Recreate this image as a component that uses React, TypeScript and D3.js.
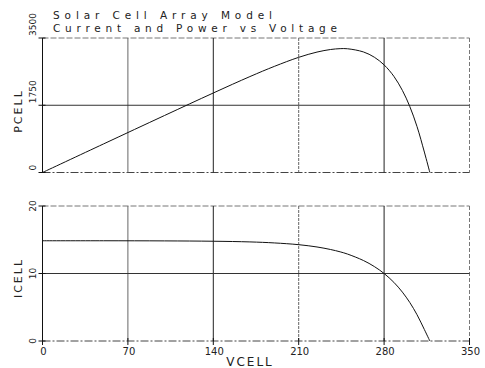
import * as d3 from 'd3';
import { useEffect, useRef } from 'react';

// values
const vcell = [0, 50, 100, 140, 170, 190, 210, 225, 236, 244, 250, 263, 272, 280, 288, 295, 301, 307, 313, 317.5];
const icell = [14.85, 14.85, 14.83, 14.78, 14.68, 14.53, 14.27, 13.93, 13.56, 13.21, 12.88, 11.93, 11.03, 10.0, 8.69, 7.24, 5.72, 3.89, 1.7, 0];
const pcell = [0, 743, 1483, 2069, 2496, 2761, 2997, 3134, 3200, 3223, 3220, 3138, 3000, 2800, 2503, 2136, 1722, 1194, 532, 0];

const xTicks = [0, 70, 140, 210, 280, 350];
const pTicks = [0, 1750, 3500];
const iTicks = [0, 10, 20];
const titleLines = ['Solar Cell Array Model', 'Current and Power vs Voltage'];

const App = () => {
    const svgRef = useRef<SVGSVGElement>(null);

    useEffect(() => {
        const width = 485;
        const height = 368;
        const font = "'DejaVu Sans', sans-serif";

        const svg = d3.select(svgRef.current);
        svg.selectAll('*').remove();
        svg.attr('width', width).attr('height', height);

        const x = d3.scaleLinear().domain([0, 350]).range([42.5, 469.5]);

        const panels = [
            { y: d3.scaleLinear().domain([0, 3500]).range([172.5, 38]), values: pcell, ticks: pTicks, label: 'PCELL', labelY: 111, tickShift: -2, anchor: 'start' },
            { y: d3.scaleLinear().domain([0, 20]).range([341, 206]), values: icell, ticks: iTicks, label: 'ICELL', labelY: 278, tickShift: 0, anchor: 'middle' },
        ];

        panels.forEach((p) => {
            const g = svg.append('g');
            const [y0, y1] = p.y.range();

            // frame: dashed top/right, dotted bottom
            g.append('line').attr('x1', x(0)).attr('x2', x(350)).attr('y1', y1).attr('y2', y1)
                .attr('stroke', '#777').attr('stroke-dasharray', '6,2');
            g.append('line').attr('x1', x(350)).attr('x2', x(350)).attr('y1', y1).attr('y2', y0)
                .attr('stroke', '#777').attr('stroke-dasharray', '4,2');
            g.append('line').attr('x1', x(0)).attr('x2', x(350)).attr('y1', y0).attr('y2', y0)
                .attr('stroke', '#444').attr('stroke-dasharray', '8,2,2,2');

            // grid
            xTicks.slice(1, -1).forEach((t, i) => {
                g.append('line').attr('x1', x(t)).attr('x2', x(t)).attr('y1', y1).attr('y2', y0)
                    .attr('stroke', i % 2 === 1 ? '#222' : '#666')
                    .attr('stroke-dasharray', i === 2 ? '3,1' : null);
            });
            g.append('line').attr('x1', x(0)).attr('x2', x(350)).attr('y1', p.y(p.ticks[1])).attr('y2', p.y(p.ticks[1]))
                .attr('stroke', '#333');

            // left axis
            g.append('line').attr('x1', x(0)).attr('x2', x(0)).attr('y1', y1).attr('y2', y0).attr('stroke', '#111');
            p.ticks.forEach((t) => {
                g.append('line').attr('x1', x(0) - 4).attr('x2', x(0) + 3).attr('y1', p.y(t)).attr('y2', p.y(t))
                    .attr('stroke', '#111');
                g.append('text')
                    .attr('transform', `translate(36, ${p.y(t) + p.tickShift}) rotate(-90)`)
                    .attr('text-anchor', p.anchor)
                    .style('font-family', font).style('font-size', '9px').attr('fill', '#222')
                    .text(t);
            });

            g.append('text')
                .attr('transform', `translate(22, ${p.labelY}) rotate(-90)`)
                .attr('text-anchor', 'middle')
                .style('font-family', font).style('font-size', '11px').style('letter-spacing', '2px')
                .attr('fill', '#222')
                .text(p.label);

            const line = d3.line<number>()
                .x((_, i) => x(vcell[i]))
                .y((d) => p.y(d))
                .curve(d3.curveCatmullRom.alpha(0.5));

            g.append('path').datum(p.values).attr('d', line)
                .attr('fill', 'none').attr('stroke', '#111').attr('stroke-width', 1);
        });

        // x ticks on the lower panel
        const bottom = 341;
        xTicks.forEach((t) => {
            svg.append('line').attr('x1', x(t)).attr('x2', x(t)).attr('y1', bottom - 3).attr('y2', bottom + 4)
                .attr('stroke', '#111');
            svg.append('text')
                .attr('x', x(t) + 1).attr('y', 355)
                .attr('text-anchor', 'middle')
                .style('font-family', font).style('font-size', '10px').attr('fill', '#222')
                .text(t);
        });

        svg.append('text')
            .attr('x', 250).attr('y', 366)
            .attr('text-anchor', 'middle')
            .style('font-family', font).style('font-size', '12px').style('letter-spacing', '2px')
            .attr('fill', '#222')
            .text('VCELL');

        // title
        const titleWidths = [219, 284];
        titleLines.forEach((s, i) => {
            svg.append('text')
                .attr('x', 53).attr('y', 19 + i * 12.5)
                .attr('textLength', titleWidths[i]).attr('lengthAdjust', 'spacing')
                .style('font-family', font).style('font-size', '10.5px').attr('fill', '#222')
                .text(s);
        });
    }, []);

    return <svg ref={svgRef} style={{ position: 'absolute', left: 0, top: 0, background: '#fff' }} />;
};

export default App;
